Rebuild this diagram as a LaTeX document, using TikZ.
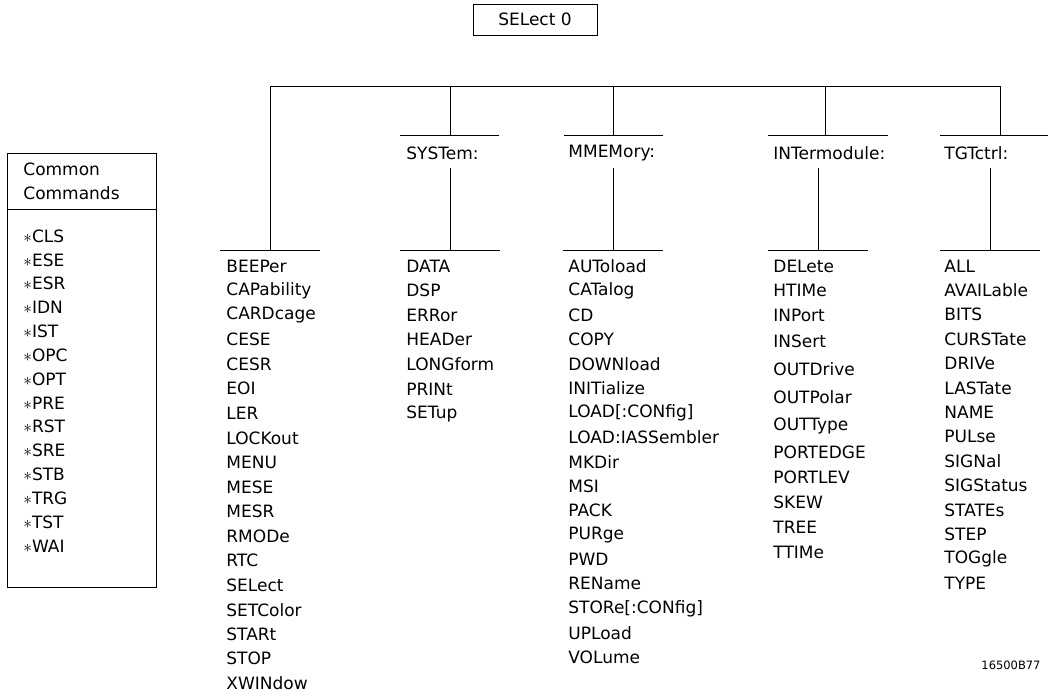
\documentclass[tikz,border=0pt]{standalone}
\usepackage{fontspec}
\setmainfont{DejaVu Sans}
\begin{document}
\begin{tikzpicture}[x=1pt,y=-1pt,line width=0.8pt,
  lbl/.style={anchor=west,inner sep=0pt,font=\fontsize{17}{20}\selectfont},
  boxed/.style={draw,inner sep=0pt,font=\fontsize{17}{20}\selectfont}]
\useasboundingbox (0,0) rectangle (1048,696);
% top box
\node[boxed,minimum width=124pt,minimum height=31pt] (sel) at (535,19.5) {SELect 0};
% bus and column connectors
\coordinate (b1) at (270,86);
\coordinate (b2) at (450,86);
\coordinate (b3) at (613,86);
\coordinate (b4) at (825,86);
\coordinate (b5) at (1000,86);
\foreach \n/\x in {2/450,3/613,4/825,5/1000}
  \coordinate (h\n) at (\x,135);
\foreach \n/\x in {1/270,2/450,3/613,4/818,5/990}{
  \coordinate (u\n) at (\x,168);
  \coordinate (t\n) at (\x,250);
}
\draw (b1) -- (b5);
\draw (b1) -- (t1);
\foreach \n in {2,3,4,5}{
  \draw (b\n) -- (h\n);
  \draw (u\n) -- (t\n);
}
% header bars
\draw (400,135) -- (499,135);
\draw (564,135) -- (663,135);
\draw (768,135) -- (888,135);
\draw (940,135) -- (1048,135);
% bottom bars
\foreach \n in {1,2,3,4,5}
  \draw ([xshift=-50pt]t\n) -- ([xshift=50pt]t\n);
% headers
\node[lbl] (hsys) at (406,153) {SYSTem:};
\node[lbl] (hmm) at (568,153) {MMEMory:};
\node[lbl] (hint) at (773,153) {INTermodule:};
\node[lbl] (htgt) at (944,153) {TGTctrl:};
% column 1
\foreach \t [count=\i from 0] in {BEEPer,CAPability,CARDcage,CESE,CESR,EOI,LER,LOCKout,MENU,MESE,MESR,RMODe,RTC,SELect,SETColor,STARt,STOP,XWINdow}
  \node[lbl] (ca\i) at (226,266+24.55*\i) {\t};
% column 2
\foreach \t [count=\i from 0] in {DATA,DSP,ERRor,HEADer,LONGform,PRINt,SETup}
  \node[lbl] (cb\i) at (406,266+24.6*\i) {\t};
% column 3
\foreach \t [count=\i from 0] in {AUToload,CATalog,CD,COPY,DOWNload,INITialize,{LOAD[:CONfig]},LOAD:IASSembler,MKDir,MSI,PACK,PURge,PWD,REName,{STORe[:CONfig]},UPLoad,VOLume}
  \node[lbl] (cc\i) at (568,266+24.45*\i) {\t};
% column 4
\foreach \t/\y [count=\i from 0] in {DELete/266,HTIMe/290,INPort/315,INSert/341,OUTDrive/369,OUTPolar/397,OUTType/426,PORTEDGE/452,PORTLEV/477,SKEW/502,TREE/527,TTIMe/552}
  \node[lbl] (cd\i) at (773,\y) {\t};
% column 5
\foreach \t [count=\i from 0] in {ALL,AVAILable,BITS,CURSTate,DRIVe,LASTate,NAME,PULse,SIGNal,SIGStatus,STATEs,STEP,TOGgle,TYPE}
  \node[lbl] (ce\i) at (944,266+24.4*\i) {\t};
% common commands
\node[draw,minimum width=149pt,minimum height=434pt,inner sep=0pt,anchor=north west] (cbox) at (7,153) {};
\coordinate (dl) at (7,209);
\coordinate (dr) at (156,209);
\draw (dl) -- (dr);
\node[lbl] (cm1) at (23,169) {Common};
\node[lbl] (cm2) at (23,193) {Commands};
\foreach \t [count=\i from 0] in {CLS,ESE,ESR,IDN,IST,OPC,OPT,PRE,RST,SRE,STB,TRG,TST,WAI}
  \node[lbl] (cx\i) at (23,236+23.85*\i) {$\ast$\t};
\node[inner sep=0pt,font=\fontsize{11.5}{13}\selectfont] (fig) at (1011,665) {16500B77};
\end{tikzpicture}
\end{document}
